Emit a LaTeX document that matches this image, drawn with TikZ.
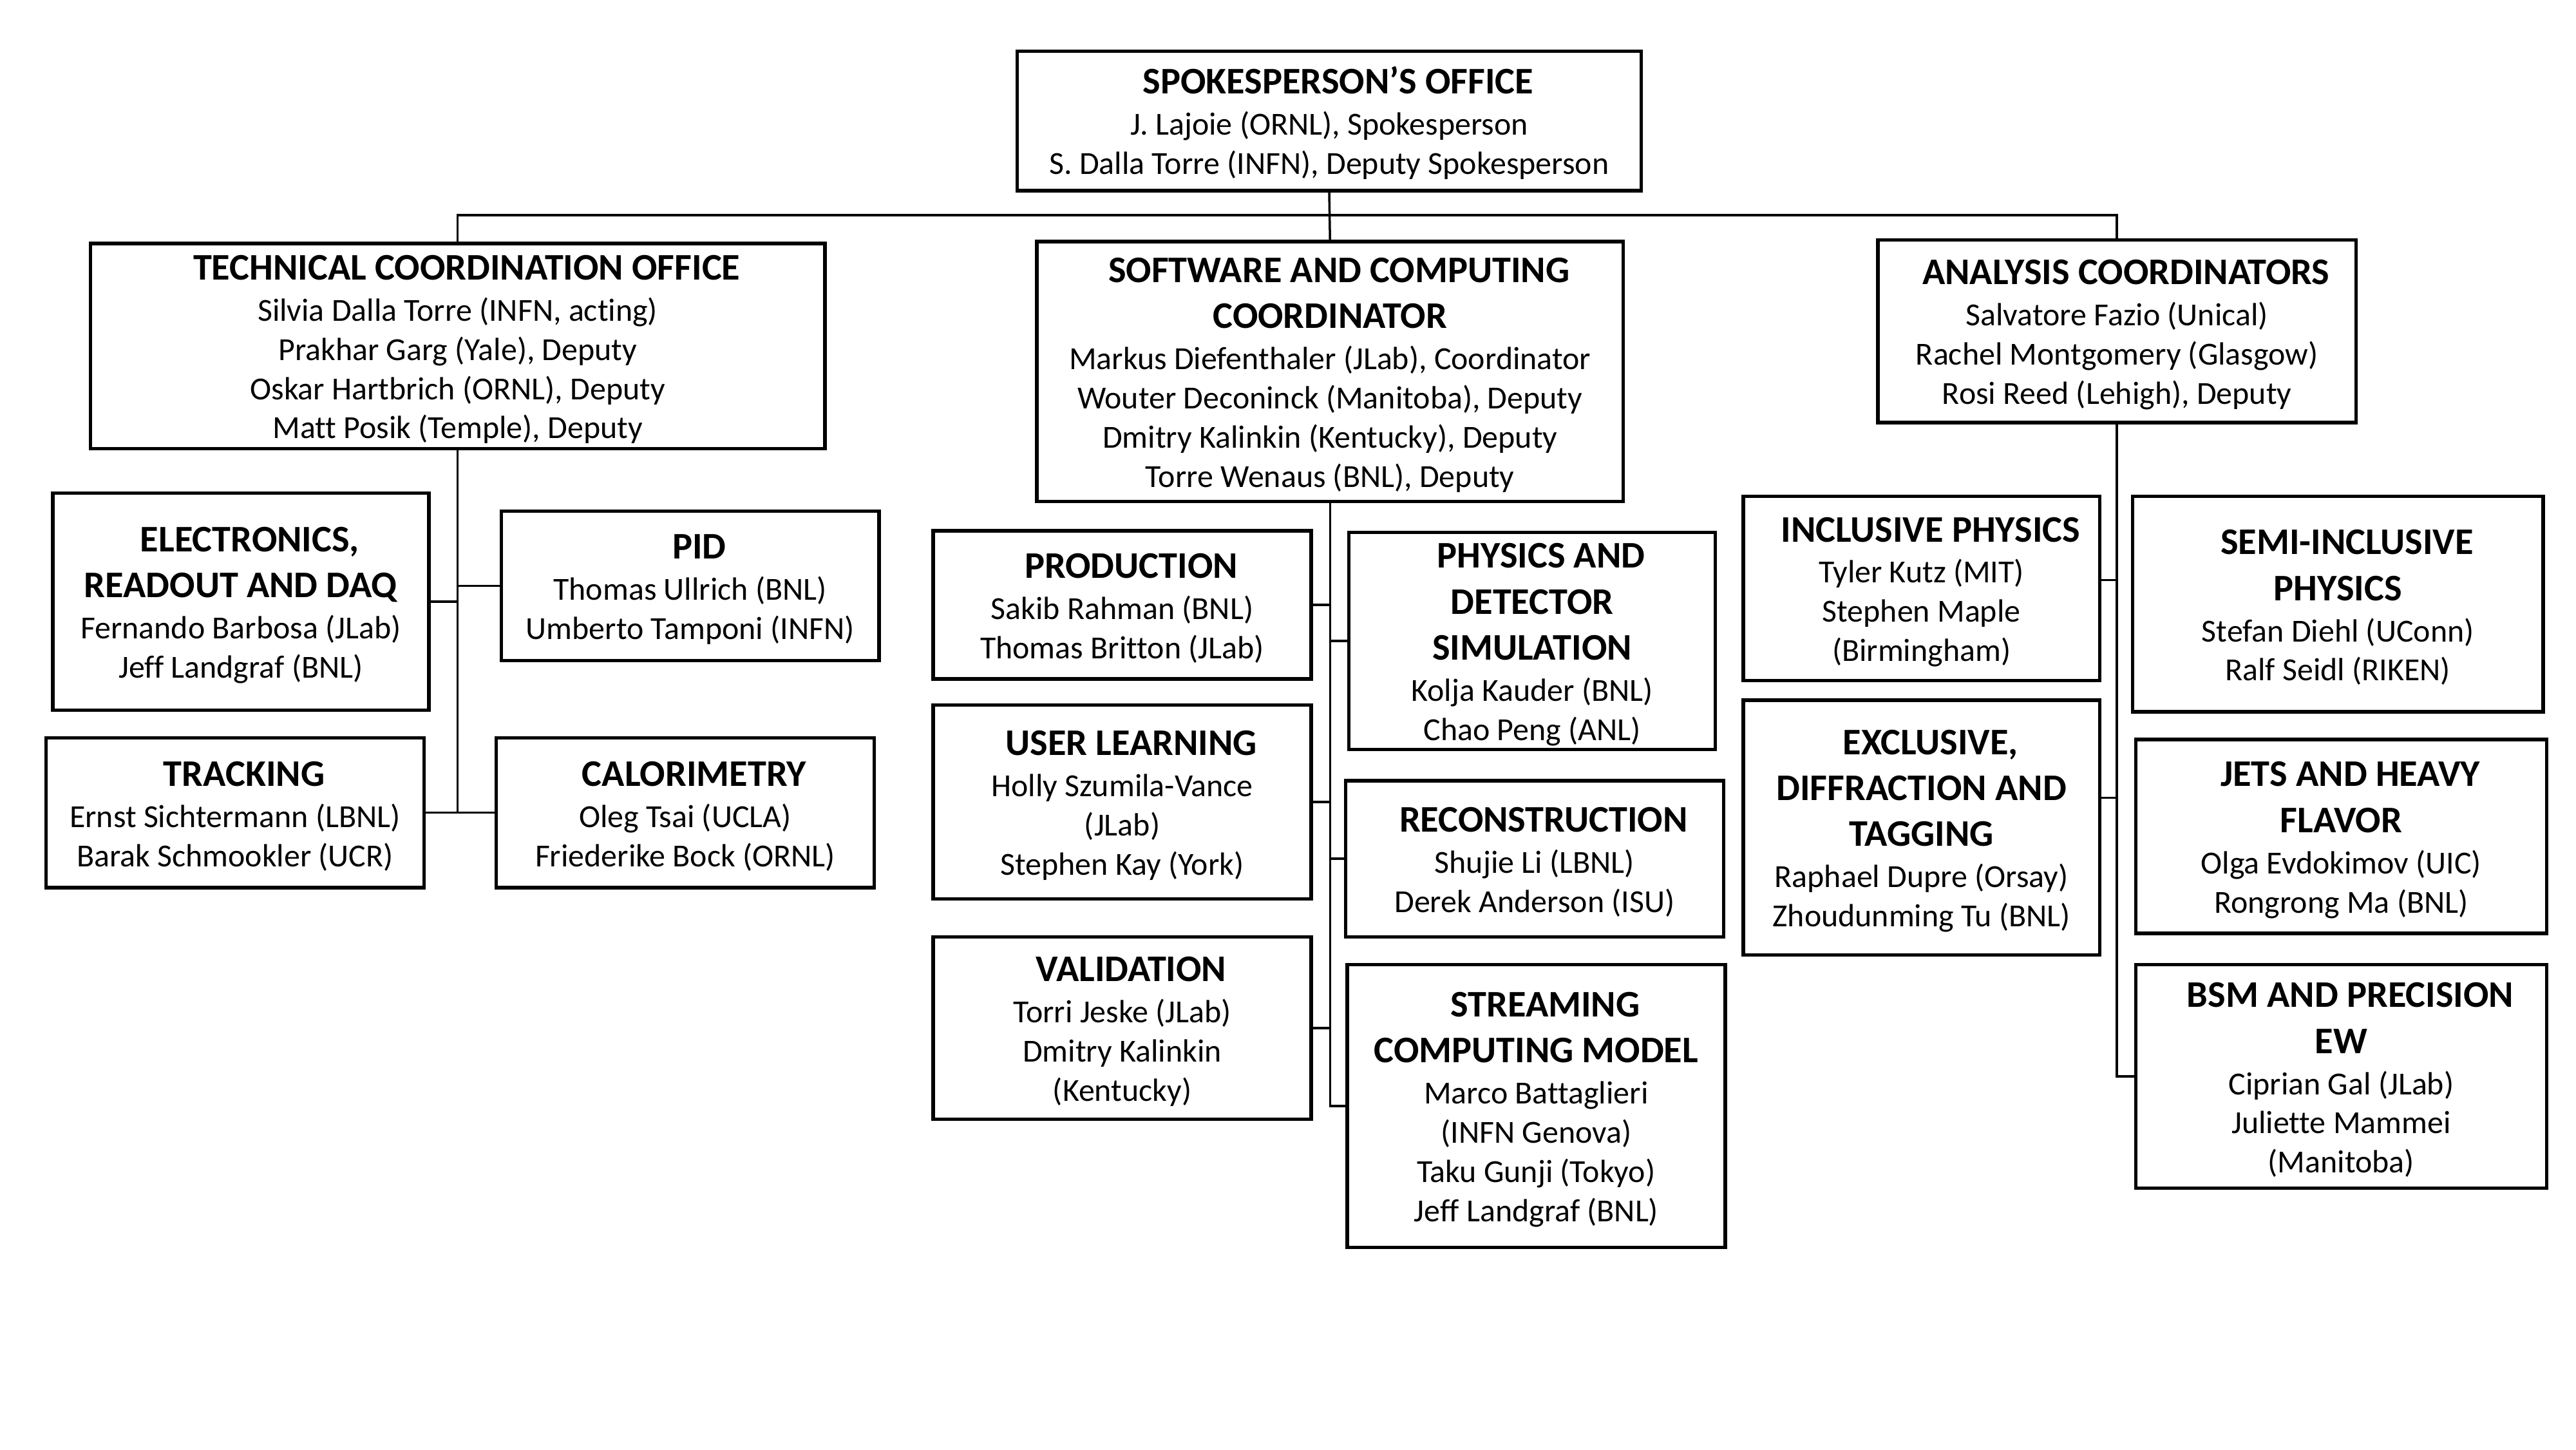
\documentclass[tikz,border=0pt]{standalone}
\usepackage{fontspec}
\setmainfont{Carlito}[Ligatures=NoCommon]
\newcommand\boxtitle{\fontsize{16.6}{19.6}\selectfont\bfseries}
\newcommand\boxtext{\fontsize{14.2}{17.3}\selectfont}
\newcommand\boxhead[1]{\hspace*{8pt}{\boxtitle\rule{0pt}{14pt}#1}}
\def\px{0.02551cm}
\tikzset{
  orgbox/.style n args={2}{draw, line width=0.055cm, align=center, inner sep=0pt,
    minimum width=#1*\px, minimum height=#2*\px, anchor=north west, font=\boxtext},
  orgline/.style={line width=0.035cm},
}
\begin{document}
\begin{tikzpicture}[x=0.02551cm, y=-0.02551cm]
  \useasboundingbox (0,0) rectangle (1568,882);

  % Drawing box spokesperson
  \node[orgbox={380}{85}] (spk) at (618,30) {\boxhead{SPOKESPERSON’S OFFICE}\\[0.9pt]
    J. Lajoie (ORNL), Spokesperson\\
    S. Dalla Torre (INFN), Deputy Spokesperson};

  % Drawing boxes of the second level
  \node[orgbox={447}{125}] (tco) at (54,147) {\boxhead{TECHNICAL COORDINATION OFFICE}\\[0.9pt]
    Silvia Dalla Torre (INFN, acting)\\
    Prakhar Garg (Yale), Deputy\\
    Oskar Hartbrich (ORNL), Deputy\\
    Matt Posik (Temple), Deputy};
  \node[orgbox={357}{158}] (sw) at (630,146) {\boxhead{SOFTWARE AND COMPUTING}\\[3pt]
    {\boxtitle COORDINATOR}\\[0.9pt]
    Markus Diefenthaler (JLab), Coordinator\\
    Wouter Deconinck (Manitoba), Deputy\\
    Dmitry Kalinkin (Kentucky), Deputy\\
    Torre Wenaus (BNL), Deputy};
  \node[orgbox={291}{111}] (ana) at (1142,145) {\boxhead{ANALYSIS COORDINATORS}\\[0.9pt]
    Salvatore Fazio (Unical)\\
    Rachel Montgomery (Glasgow)\\
    Rosi Reed (Lehigh), Deputy};

  % Drawing boxes under technical coordination
  \node[orgbox={229}{132}] (ele) at (31,299) {\boxhead{ELECTRONICS,}\\[3pt]
    {\boxtitle READOUT AND DAQ}\\[0.9pt]
    Fernando Barbosa (JLab)\\
    Jeff Landgraf (BNL)};
  \node[orgbox={230}{91}] (pid) at (304,310) {\boxhead{PID}\\[0.9pt]
    Thomas Ullrich (BNL)\\
    Umberto Tamponi (INFN)};
  \node[orgbox={230}{91}] (trk) at (27,448) {\boxhead{TRACKING}\\[0.9pt]
    Ernst Sichtermann (LBNL)\\
    Barak Schmookler (UCR)};
  \node[orgbox={230}{91}] (cal) at (301,448) {\boxhead{CALORIMETRY}\\[0.9pt]
    Oleg Tsai (UCLA)\\
    Friederike Bock (ORNL)};

  % Drawing boxes under software and computing
  \node[orgbox={230}{90}] (prod) at (567,322) {\boxhead{PRODUCTION}\\[0.9pt]
    Sakib Rahman (BNL)\\
    Thomas Britton (JLab)};
  \node[orgbox={230}{118}] (user) at (567,428) {\boxhead{USER LEARNING}\\[0.9pt]
    Holly Szumila-Vance\\
    (JLab)\\
    Stephen Kay (York)};
  \node[orgbox={230}{111}] (val) at (567,569) {\boxhead{VALIDATION}\\[0.9pt]
    Torri Jeske (JLab)\\
    Dmitry Kalinkin\\
    (Kentucky)};
  \node[orgbox={223}{132}] (phys) at (820,323) {\boxhead{PHYSICS AND}\\[3pt]
    {\boxtitle DETECTOR}\\[3pt]
    {\boxtitle SIMULATION}\\[0.9pt]
    Kolja Kauder (BNL)\\
    Chao Peng (ANL)};
  \node[orgbox={230}{95}] (reco) at (818,474) {\boxhead{RECONSTRUCTION}\\[0.9pt]
    Shujie Li (LBNL)\\
    Derek Anderson (ISU)};
  \node[orgbox={230}{172}] (strm) at (819,586) {\boxhead{STREAMING}\\[3pt]
    {\boxtitle COMPUTING MODEL}\\[0.9pt]
    Marco Battaglieri\\
    (INFN Genova)\\
    Taku Gunji (Tokyo)\\
    Jeff Landgraf (BNL)};

  % Drawing boxes under analysis
  \node[orgbox={217}{112}] (incl) at (1060,301) {\boxhead{INCLUSIVE PHYSICS}\\[0.9pt]
    Tyler Kutz (MIT)\\
    Stephen Maple\\
    (Birmingham)};
  \node[orgbox={217}{155}] (excl) at (1060,425) {\boxhead{EXCLUSIVE,}\\[3pt]
    {\boxtitle DIFFRACTION AND}\\[3pt]
    {\boxtitle TAGGING}\\[0.9pt]
    Raphael Dupre (Orsay)\\
    Zhoudunming Tu (BNL)};
  \node[orgbox={250}{131}] (semi) at (1297,301) {\boxhead{SEMI-INCLUSIVE}\\[3pt]
    {\boxtitle PHYSICS}\\[0.9pt]
    Stefan Diehl (UConn)\\
    Ralf Seidl (RIKEN)};
  \node[orgbox={250}{118}] (jets) at (1299,449) {\boxhead{JETS AND HEAVY}\\[3pt]
    {\boxtitle FLAVOR}\\[0.9pt]
    Olga Evdokimov (UIC)\\
    Rongrong Ma (BNL)};
  \node[orgbox={250}{136}] (bsm) at (1299,586) {\boxhead{BSM AND PRECISION}\\[3pt]
    {\boxtitle EW}\\[0.9pt]
    Ciprian Gal (JLab)\\
    Juliette Mammei\\
    (Manitoba)};

  % Drawing line spokesperson to second level
  \coordinate (bus) at (808,131);
  \draw[orgline] (spk.south) -- (sw.north);
  \draw[orgline] (tco.north) |- (bus) -| (ana.north);

  % Drawing lines technical coordination
  \draw[orgline] (tco.south) |- (trk.east);
  \draw[orgline] (tco.south) |- (cal.west);
  \draw[orgline] (ele.east) -- (ele.east -| tco.south);
  \draw[orgline] (pid.west) -- (pid.west -| tco.south);

  % Drawing lines software and computing
  \draw[orgline] (sw.south) |- (strm.west);
  \draw[orgline] (prod.east) -- (prod.east -| sw.south);
  \draw[orgline] (user.east) -- (user.east -| sw.south);
  \draw[orgline] (val.east) -- (val.east -| sw.south);
  \draw[orgline] (phys.west) -- (phys.west -| sw.south);
  \draw[orgline] (reco.west) -- (reco.west -| sw.south);

  % Drawing lines analysis
  \coordinate (inclc) at ([yshift=5*\px]incl.east);
  \coordinate (exclc) at ([yshift=18*\px]excl.east);
  \draw[orgline] (ana.south) |- (bsm.west);
  \draw[orgline] (inclc) -- (inclc -| ana.south);
  \draw[orgline] (exclc) -- (exclc -| ana.south);
\end{tikzpicture}
\end{document}
